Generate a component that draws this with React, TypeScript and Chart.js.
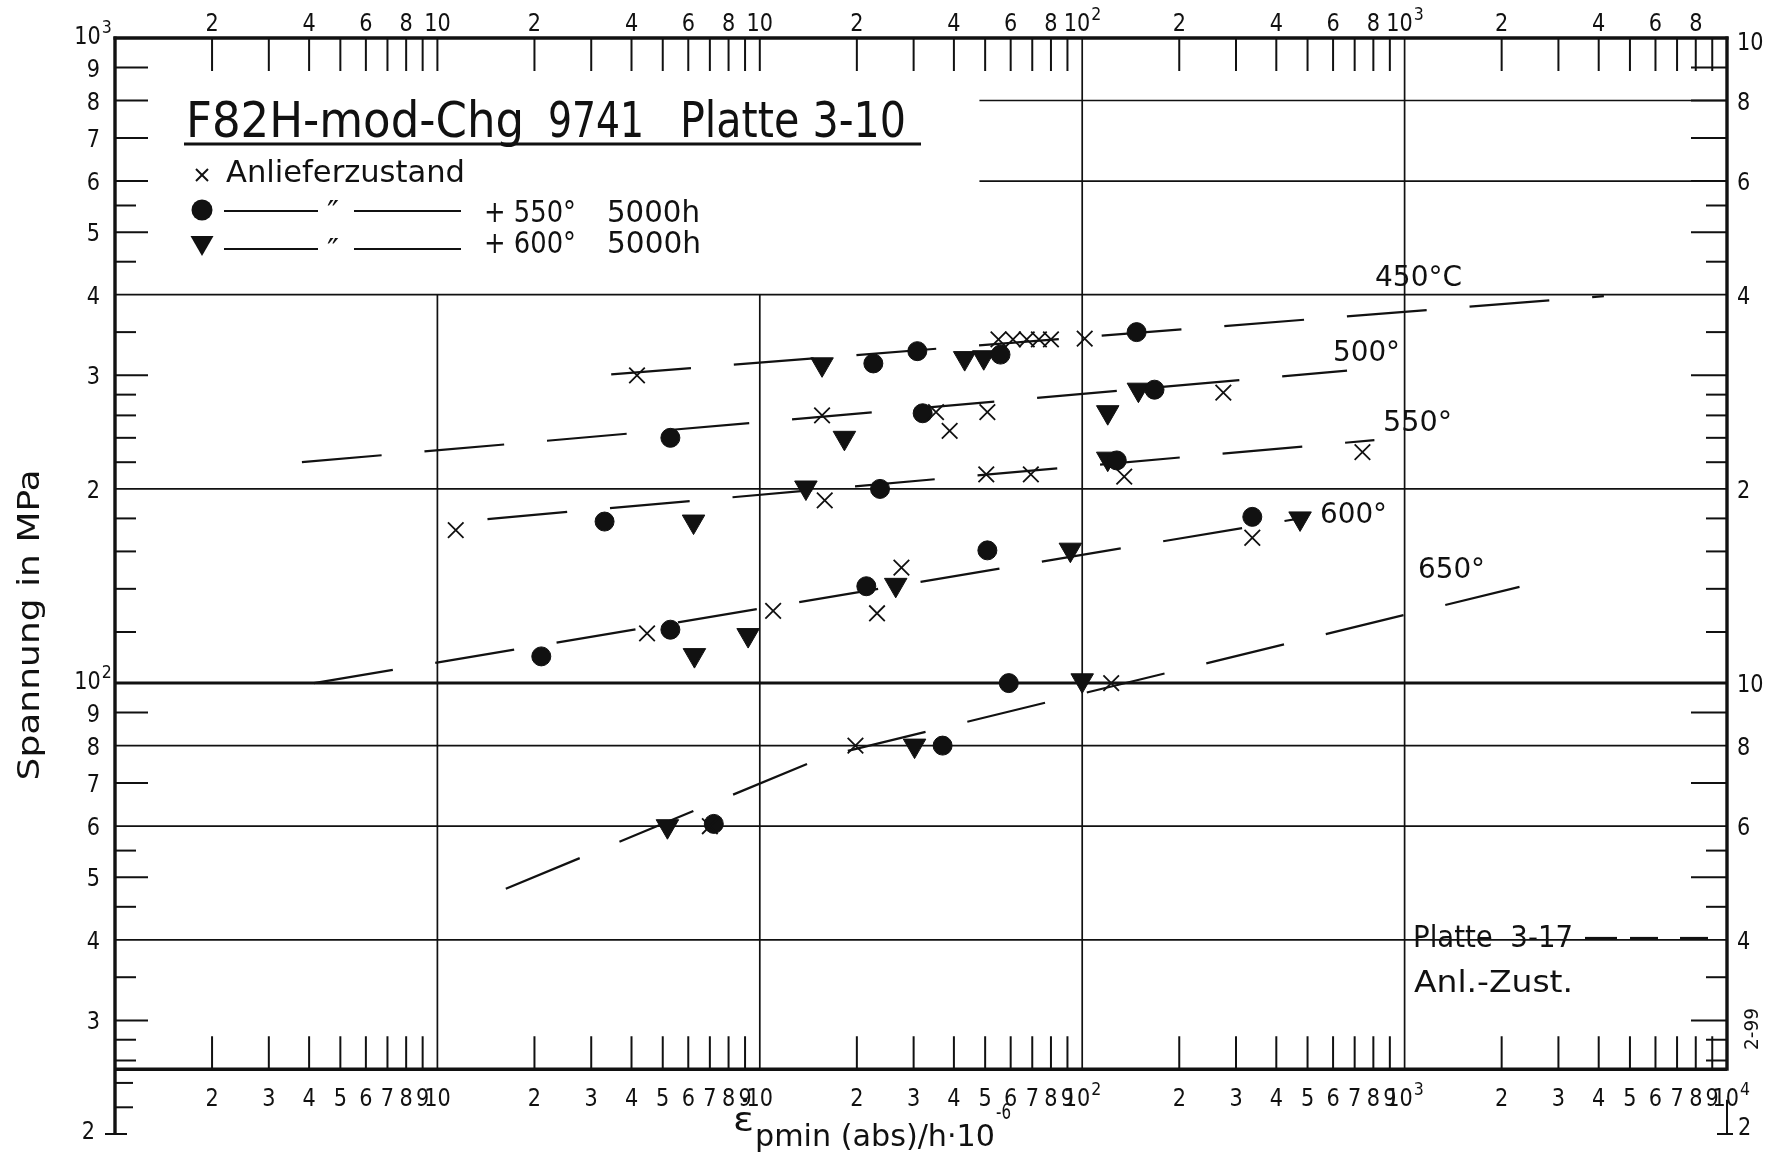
import React, { useEffect, useRef } from "react";
import { Chart, registerables } from "chart.js";

Chart.register(...registerables);

// ---------------- data ----------------
const anlieferX = [1.14, 4.16, 4.47, 7.0, 11.0, 15.6, 15.9, 19.8, 23.1, 27.5, 35.2, 38.8, 50.4, 50.8, 55.0, 61.0, 67.3, 73.4, 80.0, 69.3, 101.8, 123, 135, 274, 337, 740];
const anlieferY = [172.6, 300, 119.4, 60, 129.4, 260, 192, 80, 128.3, 151, 263, 246, 210.6, 263, 341, 341, 341, 341, 341, 210.6, 342, 100, 209, 282, 168, 228];

const c550X = [2.1, 3.3, 5.28, 5.28, 7.2, 21.4, 22.5, 23.6, 30.8, 32.0, 36.9, 50.8, 55.8, 59.2, 128, 147.5, 167.6, 337];
const c550Y = [110, 178, 240, 121, 60.5, 141.3, 313, 200, 327, 262, 80, 160.6, 323, 100, 221.4, 350, 285, 181];

const t600X = [5.17, 6.23, 6.27, 9.2, 13.9, 15.6, 18.3, 26.4, 30.2, 43.2, 49.5, 91.9, 100, 120, 120, 149.4, 474];
const t600Y = [60, 178, 110.5, 118.7, 201, 312, 240, 142, 80, 319, 320, 161, 101, 263, 222.8, 285, 180];

const line450X = [3.46, 4150];
const line450Y = [301, 398];
const line500X = [0.38, 663];
const line500Y = [220, 305];
const line550X = [1.43, 806];
const line550Y = [179.6, 238];
const line600X = [0.414, 474];
const line600Y = [100, 180];
const line650X = [1.63, 16, 2272];
const line650Y = [48, 77, 141];

// axes / ticks
const xMin = 0.1;
const xMax = 10000;
const yMin = 20;
const yMax = 1000;
const axisLineValue = 25.2;
const xDecades = [0.1, 1, 10, 100, 1000];
const xMinorMult = [2, 3, 4, 5, 6, 7, 8, 9];
const topLabelMult = [2, 4, 6, 8];
const topDecadeLabels = [
  { v: 1, base: "10", sup: "" },
  { v: 10, base: "10", sup: "" },
  { v: 100, base: "10", sup: "2" },
  { v: 1000, base: "10", sup: "3" },
];
const bottomDecadeLabels = [
  { v: 1, base: "10", sup: "" },
  { v: 10, base: "10", sup: "" },
  { v: 100, base: "10", sup: "2" },
  { v: 1000, base: "10", sup: "3" },
  { v: 10000, base: "10", sup: "4" },
];
const leftLabels = [
  { v: 1000, base: "10", sup: "3" },
  { v: 900, base: "9", sup: "" },
  { v: 800, base: "8", sup: "" },
  { v: 700, base: "7", sup: "" },
  { v: 600, base: "6", sup: "" },
  { v: 500, base: "5", sup: "" },
  { v: 400, base: "4", sup: "" },
  { v: 300, base: "3", sup: "" },
  { v: 200, base: "2", sup: "" },
  { v: 100, base: "10", sup: "2" },
  { v: 90, base: "9", sup: "" },
  { v: 80, base: "8", sup: "" },
  { v: 70, base: "7", sup: "" },
  { v: 60, base: "6", sup: "" },
  { v: 50, base: "5", sup: "" },
  { v: 40, base: "4", sup: "" },
  { v: 30, base: "3", sup: "" },
];
const rightLabels = [
  { v: 1000, t: "10" },
  { v: 800, t: "8" },
  { v: 600, t: "6" },
  { v: 400, t: "4" },
  { v: 200, t: "2" },
  { v: 100, t: "10" },
  { v: 80, t: "8" },
  { v: 60, t: "6" },
  { v: 40, t: "4" },
];
const longTicksY = [900, 800, 700, 600, 500, 300, 90, 70, 50, 30];
const shortTicksY = [550, 450, 350, 280, 260, 240, 220, 180, 160, 140, 120, 55, 45, 35, 28, 26];
const lowLeftTicksY = [24, 22];
const gridFullY = [400, 200, 80, 60, 40];
const gridBoldY = [100];
const gridPartialY = [800, 600];
const gridPartialStartX = 48;
const gridXFromTop = [100, 1000];
const gridXFrom400 = [1, 10];

const INK = "#111";
const FONT = "'DejaVu Sans Condensed', 'Liberation Sans Narrow', 'DejaVu Sans', sans-serif";

function setFont(ctx: CanvasRenderingContext2D, size: number) {
  ctx.font = `${size}px ${FONT}`;
}

function line(ctx: CanvasRenderingContext2D, x1: number, y1: number, x2: number, y2: number) {
  ctx.beginPath();
  ctx.moveTo(x1, y1);
  ctx.lineTo(x2, y2);
  ctx.stroke();
}

function digitsWidth(ctx: CanvasRenderingContext2D, s: string, size: number) {
  setFont(ctx, size);
  return Math.min(ctx.measureText(s).width, s.length * size * 0.53);
}

function drawSup(
  ctx: CanvasRenderingContext2D,
  base: string,
  sup: string,
  x: number,
  baseline: number,
  align: "left" | "center" | "right",
  size: number
) {
  const wb = digitsWidth(ctx, base, size);
  const ss = size * 0.7;
  const ws = sup ? digitsWidth(ctx, sup, ss) + 1 : 0;
  const total = wb + ws;
  const x0 = align === "center" ? x - total / 2 : align === "right" ? x - total : x;
  ctx.textAlign = "left";
  ctx.textBaseline = "alphabetic";
  setFont(ctx, size);
  ctx.fillText(base, x0, baseline, wb);
  if (sup) {
    setFont(ctx, ss);
    ctx.fillText(sup, x0 + wb + 1, baseline - size * 0.45, ws);
  }
}

// draws text stretched / compressed to an exact width
function fitText(ctx: CanvasRenderingContext2D, s: string, x: number, baseline: number, size: number, targetW: number) {
  setFont(ctx, size);
  const w = ctx.measureText(s).width || 1;
  ctx.save();
  ctx.translate(x, baseline);
  ctx.scale(targetW / w, 1);
  ctx.textAlign = "left";
  ctx.textBaseline = "alphabetic";
  ctx.fillText(s, 0, 0);
  ctx.restore();
}

function fitRotated(ctx: CanvasRenderingContext2D, s: string, cx: number, cy: number, size: number, targetW: number) {
  setFont(ctx, size);
  const w = ctx.measureText(s).width || 1;
  ctx.save();
  ctx.translate(cx, cy);
  ctx.rotate(-Math.PI / 2);
  ctx.scale(targetW / w, 1);
  ctx.textAlign = "center";
  ctx.textBaseline = "middle";
  ctx.fillText(s, 0, 0);
  ctx.restore();
}

const paperPlugin = {
  id: "paper",
  beforeDraw(chart: any) {
    const ctx = chart.ctx as CanvasRenderingContext2D;
    ctx.save();
    ctx.fillStyle = "#fff";
    ctx.fillRect(0, 0, chart.width, chart.height);
    ctx.restore();
  },
  beforeDatasetsDraw(chart: any) {
    const ctx = chart.ctx as CanvasRenderingContext2D;
    const xs = chart.scales.x;
    const ys = chart.scales.y;
    const X = (v: number) => xs.getPixelForValue(v);
    const Y = (v: number) => ys.getPixelForValue(v);
    const L = X(xMin), R = X(xMax), T = Y(yMax), B = Y(axisLineValue), BB = Y(yMin);
    ctx.save();
    ctx.strokeStyle = INK;
    ctx.lineCap = "butt";
    // grid
    ctx.lineWidth = 1.7;
    gridFullY.forEach((v) => line(ctx, L, Y(v), R, Y(v)));
    gridPartialY.forEach((v) => line(ctx, X(gridPartialStartX), Y(v), R, Y(v)));
    gridXFromTop.forEach((v) => line(ctx, X(v), T, X(v), B));
    gridXFrom400.forEach((v) => line(ctx, X(v), Y(400), X(v), B));
    ctx.lineWidth = 3;
    gridBoldY.forEach((v) => line(ctx, L, Y(v), R, Y(v)));
    // y ticks
    ctx.lineWidth = 2;
    longTicksY.forEach((v) => {
      line(ctx, L, Y(v), L + 33, Y(v));
      line(ctx, R, Y(v), R - 36, Y(v));
    });
    shortTicksY.forEach((v) => {
      line(ctx, L, Y(v), L + 21, Y(v));
      line(ctx, R, Y(v), R - 21, Y(v));
    });
    lowLeftTicksY.forEach((v) => line(ctx, L, Y(v), L + 18, Y(v)));
    // x ticks
    xDecades.forEach((d) => {
      xMinorMult.forEach((m) => {
        const v = d * m;
        line(ctx, X(v), T, X(v), T + 33);
        line(ctx, X(v), B, X(v), B - 33);
      });
    });
    [1, 10].forEach((v) => line(ctx, X(v), T, X(v), T + 33));
    // borders
    ctx.lineWidth = 3.4;
    line(ctx, L, T - 1.5, L, BB);
    line(ctx, L - 1.5, T, R + 1.5, T);
    line(ctx, R, T - 1.5, R, B + 1.5);
    line(ctx, L, B, R, B);
    ctx.lineWidth = 2;
    line(ctx, R, Y(22.6), R, BB);
    line(ctx, R - 10, BB, R + 6, BB);
    line(ctx, L - 10, BB, L + 12, BB);
    ctx.restore();
  },
  afterDatasetsDraw(chart: any) {
    const ctx = chart.ctx as CanvasRenderingContext2D;
    const xs = chart.scales.x;
    const ys = chart.scales.y;
    const X = (v: number) => xs.getPixelForValue(v);
    const Y = (v: number) => ys.getPixelForValue(v);
    const L = X(xMin), R = X(xMax), T = Y(yMax), B = Y(axisLineValue), BB = Y(yMin);
    const DS = 25;
    ctx.save();
    ctx.fillStyle = INK;
    ctx.strokeStyle = INK;

    // top labels
    xDecades.forEach((d) => topLabelMult.forEach((m) => drawSup(ctx, String(m), "", X(d * m), T - 7, "center", DS)));
    topDecadeLabels.forEach((l) => drawSup(ctx, l.base, l.sup, X(l.v), T - 7, "center", DS));
    // bottom labels
    xDecades.forEach((d) => xMinorMult.forEach((m) => drawSup(ctx, String(m), "", X(d * m), B + 37, "center", DS)));
    bottomDecadeLabels.forEach((l) => drawSup(ctx, l.base, l.sup, X(l.v) + (l.v === xMax ? 4 : 0), B + 37, "center", DS));
    // left labels
    leftLabels.forEach((l) => {
      if (l.sup) drawSup(ctx, l.base, l.sup, L - 4, Y(l.v) + 6, "right", DS);
      else drawSup(ctx, l.base, "", L - 15, Y(l.v) + 9, "right", DS);
    });
    drawSup(ctx, "2", "", L - 20, BB + 4.5, "right", DS);
    // right labels
    rightLabels.forEach((l) => drawSup(ctx, l.t, "", R + 10, Y(l.v) + 9 + (l.v === yMax ? 3 : 0), "left", DS));
    drawSup(ctx, "2", "", R + 11, BB + 1, "left", DS);

    // title
    fitText(ctx, "F82H-mod-Chg", 186, 137, 50, 338);
    fitText(ctx, "9741", 548, 137, 50, 96);
    fitText(ctx, "Platte 3-10", 680, 137, 50, 226);
    ctx.lineWidth = 3;
    line(ctx, 184, 144, 921, 144);

    // legend
    ctx.lineWidth = 2;
    line(ctx, 196, 169, 208, 181);
    line(ctx, 208, 169, 196, 181);
    fitText(ctx, "Anlieferzustand", 226, 182, 30, 239);
    ctx.beginPath();
    ctx.arc(202, 210, 10.5, 0, Math.PI * 2);
    ctx.fill();
    ctx.beginPath();
    ctx.moveTo(190.5, 236);
    ctx.lineTo(213.5, 236);
    ctx.lineTo(202, 256);
    ctx.closePath();
    ctx.fill();
    [211, 249].forEach((yy) => {
      line(ctx, 224, yy, 318, yy);
      line(ctx, 354, yy, 461, yy);
    });
    fitText(ctx, "\u2033", 327, 222, 30, 12);
    fitText(ctx, "\u2033", 327, 260, 30, 12);
    fitText(ctx, "+ 550\u00b0", 484, 222, 30, 92);
    fitText(ctx, "5000h", 607, 222, 30, 93);
    fitText(ctx, "+ 600\u00b0", 484, 253, 30, 92);
    fitText(ctx, "5000h", 607, 253, 30, 94);

    // temperature labels
    fitText(ctx, "450\u00b0C", 1375, 286, 29, 87);
    fitText(ctx, "500\u00b0", 1333, 361, 29, 67);
    fitText(ctx, "550\u00b0", 1383, 431, 29, 69);
    fitText(ctx, "600\u00b0", 1320, 523, 29, 67);
    fitText(ctx, "650\u00b0", 1418, 578, 29, 67);

    // Platte 3-17 legend
    fitText(ctx, "Platte  3-17", 1413, 947, 30, 160);
    fitText(ctx, "Anl.-Zust.", 1414, 992, 30, 159);
    ctx.lineWidth = 2.2;
    line(ctx, 1585, 938, 1617, 938);
    line(ctx, 1630, 938, 1658, 938);
    line(ctx, 1680, 938, 1708, 938);

    // y axis title
    fitRotated(ctx, "Spannung in MPa", 31, 625, 30, 311);

    // figure id
    fitRotated(ctx, "2-99", 1753, 1029, 19, 42);

    // x axis title
    fitText(ctx, "\u03b5", 733, 1131, 33, 21);
    ctx.beginPath();
    ctx.arc(745, 1100, 2.3, 0, Math.PI * 2);
    ctx.fill();
    fitText(ctx, "pmin (abs)/h\u00b710", 755, 1146, 31, 240);
    fitText(ctx, "-6", 996, 1119, 22, 15);

    ctx.restore();
  },
};

function pts(xsArr: number[], ysArr: number[]) {
  return xsArr.map((x, i) => ({ x, y: ysArr[i] }));
}

function dashedLine(label: string, xa: number[], ya: number[]) {
  return {
    label,
    data: pts(xa, ya),
    showLine: true,
    borderColor: INK,
    backgroundColor: INK,
    borderWidth: 2.2,
    borderDash: [80, 43],
    pointRadius: 0,
    pointHoverRadius: 0,
    tension: 0,
    fill: false,
    order: 5,
  };
}

export default function App() {
  const ref = useRef<HTMLCanvasElement>(null);
  useEffect(() => {
    if (!ref.current) return;
    const chart = new Chart(ref.current, {
      type: "scatter",
      data: {
        datasets: [
          {
            label: "Anlieferzustand",
            data: pts(anlieferX, anlieferY),
            pointStyle: "crossRot",
            pointRadius: 11,
            borderColor: INK,
            backgroundColor: INK,
            borderWidth: 1.8,
            order: 1,
          },
          {
            label: "Anlieferzustand + 550\u00b0 5000h",
            data: pts(c550X, c550Y),
            pointStyle: "circle",
            pointRadius: 9.5,
            borderColor: INK,
            backgroundColor: INK,
            borderWidth: 1,
            order: 2,
          },
          {
            label: "Anlieferzustand + 600\u00b0 5000h",
            data: pts(t600X, t600Y),
            pointStyle: "triangle",
            rotation: 180,
            pointRadius: 13,
            borderColor: INK,
            backgroundColor: INK,
            borderWidth: 1,
            order: 3,
          },
          dashedLine("450\u00b0C", line450X, line450Y),
          dashedLine("500\u00b0", line500X, line500Y),
          dashedLine("550\u00b0", line550X, line550Y),
          dashedLine("600\u00b0", line600X, line600Y),
          dashedLine("650\u00b0", line650X, line650Y),
        ] as any,
      },
      options: {
        responsive: false,
        animation: false,
        devicePixelRatio: 1,
        layout: { padding: { left: 115, right: 47, top: 38, bottom: 20 } },
        scales: {
          x: { type: "logarithmic", min: xMin, max: xMax, display: false },
          y: { type: "logarithmic", min: yMin, max: yMax, display: false },
        },
        plugins: { legend: { display: false }, tooltip: { enabled: false } },
        events: [],
      } as any,
      plugins: [paperPlugin as any],
    });
    return () => chart.destroy();
  }, []);
  return (
    <div style={{ position: "absolute", left: 0, top: 0, width: 1774, height: 1154, background: "#fff", overflow: "hidden" }}>
      <canvas ref={ref} width={1774} height={1154} style={{ display: "block", width: 1774, height: 1154 }} />
    </div>
  );
}
